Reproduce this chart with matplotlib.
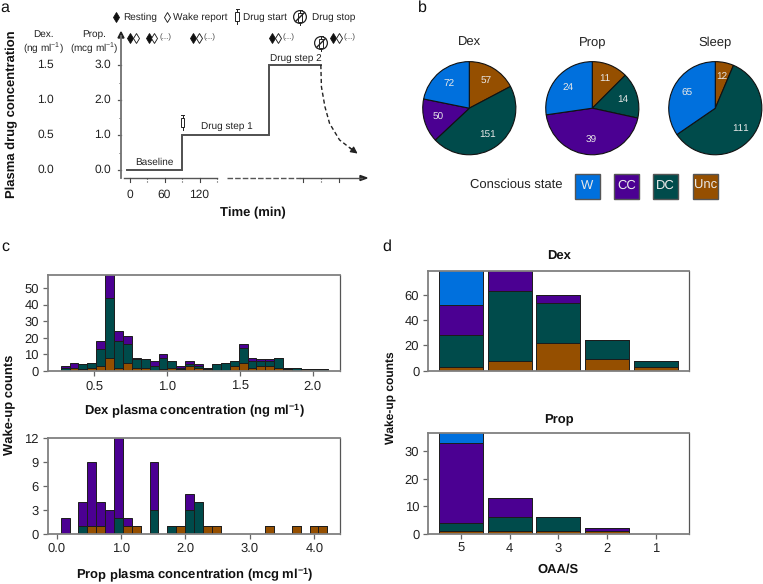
import numpy as np
import matplotlib
matplotlib.use('Agg')
import matplotlib.pyplot as plt
from matplotlib.patches import Rectangle, Circle

plt.rcParams['font.family'] = ['Liberation Sans', 'DejaVu Sans']
plt.rcParams['mathtext.fontset'] = 'custom'
plt.rcParams['mathtext.rm'] = 'Liberation Sans'
plt.rcParams['mathtext.bf'] = 'Liberation Sans:bold'
plt.rcParams['text.hinting'] = 'none'
plt.rcParams['text.hinting_factor'] = 1

# ---------- data ----------
W_C, CC_C, DC_C, UNC_C = '#0070DD', '#4B0092', '#004B4B', '#954F00'
state_names = ['W', 'CC', 'DC', 'Unc']

# panel a
step_time = [-5, 90, 90, 240, 240, 328]
step_prop = [0, 0, 1, 1, 3, 3]
decay_time = [328, 329, 335, 343, 360, 388]
decay_prop = [3, 2.38, 1.81, 1.33, 0.86, 0.5]

# panel b (clockwise from 12 o'clock: Unc, DC, CC, W)
pie_titles = ['Dex', 'Prop', 'Sleep']
pie_unc = [57, 11, 12]
pie_dc = [151, 14, 111]
pie_cc = [50, 39, 0]
pie_w = [72, 24, 65]

# panel c, top
dex_left = 0.269
dex_width = 0.0611
dex_unc = [0, 2, 1, 2, 3, 8, 2, 5, 2, 2, 0, 1, 2, 1, 3, 2, 1, 0, 0, 3, 5, 2, 3, 3, 2, 1, 0, 1, 0, 0]
dex_dc = [2, 0, 3, 3, 10, 36, 16, 11, 5, 5, 3, 7, 4, 1, 1, 1, 1, 4, 5, 3, 9, 4, 3, 3, 6, 1, 2, 0, 1, 1]
dex_cc = [1, 3, 0, 0, 5, 18, 6, 5, 1, 0, 3, 2, 0, 1, 2, 1, 0, 0, 0, 0, 2, 2, 1, 1, 0, 0, 0, 0, 0, 0]

# panel c, bottom
prop_left = 0.062
prop_width = 0.138
prop_unc = [0, 0, 0, 1, 1, 0, 0, 1, 1, 0, 0, 0, 0, 1, 0, 0, 1, 1, 0, 0, 0, 0, 0, 1, 0, 0, 1, 0, 1, 1]
prop_dc = [0, 0, 1, 0, 0, 0, 2, 0, 0, 0, 3, 0, 1, 0, 3, 4, 0, 0, 0, 0, 0, 0, 0, 0, 0, 0, 0, 0, 0, 0]
prop_cc = [2, 0, 3, 8, 3, 3, 10, 1, 0, 0, 6, 0, 0, 0, 2, 0, 0, 0, 0, 0, 0, 0, 0, 0, 0, 0, 0, 0, 0, 0]

# panel d
oaas = [5, 4, 3, 2, 1]
d_dex_unc = [3, 8, 22, 9, 3]
d_dex_dc = [25, 55, 32, 15, 5]
d_dex_cc = [24, 20, 6, 0, 0]
d_dex_w = [30, 0, 0, 0, 0]
d_prop_unc = [1, 1, 1, 1, 0]
d_prop_dc = [3, 5, 5, 0, 0]
d_prop_cc = [29, 7, 0, 1, 0]
d_prop_w = [5, 0, 0, 0, 0]

# ---------- layout helpers ----------
PW, PH = 763, 584
fig = plt.figure(figsize=(PW / 100, PH / 100), dpi=100)
GR = '#808080'
TX = '#222222'
BK = '#111111'


def axpx(l, t, r, b, **kw):
    return fig.add_axes([l / PW, 1 - b / PH, (r - l) / PW, (b - t) / PH], **kw)


def T(x, y, s, **kw):
    kw.setdefault('ha', 'center')
    kw.setdefault('va', 'center')
    kw.setdefault('color', TX)
    fig.text(x / PW, 1 - y / PH, s, **kw)


ov = axpx(0, 0, PW, PH)
ov.set_xlim(0, PW)
ov.set_ylim(PH, 0)
ov.axis('off')
ov.set_zorder(5)


def style(ax, fs=9.6):
    for s in ax.spines.values():
        s.set_color(GR)
        s.set_linewidth(1.3)
    ax.spines['right'].set_color('#555555')
    ax.spines['right'].set_linewidth(0.9)
    ax.tick_params(axis='both', length=3.5, width=0.9, color='#666666', labelsize=fs,
                   labelcolor=TX, pad=3)


def stacked(ax, x, width, layers, cols):
    bottom = np.zeros(len(x))
    for vals, c in zip(layers, cols):
        vals = np.array(vals, float)
        ax.bar(x, vals, width=width, bottom=bottom, color=c, edgecolor='#1c1c1c', linewidth=0.7)
        bottom += vals


# ---------- panel a ----------
axa = axpx(110, 25, 370, 185)
x0 = 129.5
kx = 35 / 60
y0 = 170
ky = 35
axa.set_xlim((110 - x0) / kx, (370 - x0) / kx)
axa.set_ylim((y0 - 185) / ky, (y0 - 25) / ky)
axa.patch.set_alpha(0)
for s in axa.spines.values():
    s.set_visible(False)
axa.plot(step_time, step_prop, color='#4f4f4f', lw=1.4, solid_joinstyle='miter')
axa.plot(decay_time, decay_prop, color='#222222', lw=1.0, ls=(0, (3, 2)))
axa.annotate('', xy=(decay_time[-1] + 3, decay_prop[-1] - 0.03), xytext=(decay_time[-1] - 10, decay_prop[-1] + 0.13),
             arrowprops=dict(arrowstyle='-|>', color='#222222', lw=0.9, mutation_scale=10, shrinkA=0, shrinkB=0))
axa.set_xticks([])
axa.set_yticks([])
for v, d, p in zip([0, 1, 2, 3], ['0.0', '0.5', '1.0', '1.5'], ['0.0', '1.0', '2.0', '3.0']):
    py = y0 - ky * v
    T(45.5, py, d, fontsize=8.9)
    T(102.5, py, p, fontsize=8.9)
    ov.plot([118, 121], [py, py], color='#555555', lw=0.9)
    if v < 3:
        ov.plot([118.5, 120], [py - 17.5] * 2, color='#555555', lw=0.7, ls=':')
for t, s in zip([0, 60, 120], ['0', '60', '120']):
    T(x0 + kx * t, 195, s, fontsize=8.9)
# y and x axis arrows
ov.plot([121, 121], [178, 36], color='#707070', lw=1.3)
ov.fill([118, 124, 121], [38, 38, 32], color='#222222')
ov.plot([124, 217], [178, 178], color='#555555', lw=1.0)
ov.plot([227, 300], [178, 178], color='#555555', lw=1.0, ls=(0, (4, 1.5)))
ov.plot([300, 362], [178, 178], color='#555555', lw=1.0)
ov.fill([360, 360, 367], [175.5, 180.5, 178], color='#222222')
for px_, st in zip([129.5, 147, 165, 182.3, 200, 217, 303, 321, 338.5], ['-', ':', '-', ':', '-', ':', '-', ':', '-']):
    ov.plot([px_, px_], [178, 182], color='#444444', lw=0.8, ls=st)

T(43, 42.5, 'Dex.\n' + r'(ng ml$^{-1}$)', fontsize=7.1, linespacing=1.15)
T(94, 42.5, 'Prop.\n' + r'(mcg ml$^{-1}$)', fontsize=7.1, linespacing=1.15)
T(12, 114, 'Plasma drug concentration', fontsize=9.3, fontweight='bold', rotation=90, color=BK)
T(253, 213, 'Time (min)', fontsize=9.3, fontweight='bold', color=BK)
T(154, 162, 'Baseline', fontsize=7.0)
T(227, 126, 'Drug step 1', fontsize=7.0)
T(296, 59, 'Drug step 2', fontsize=7.0)


def syringe(x, y, h=9):
    ov.add_patch(Rectangle((x - 1.8, y - h / 2), 3.6, h, fc='white', ec='#222222', lw=0.7, zorder=6))
    ov.plot([x, x], [y - h / 2 - 3, y - h / 2], color='#222222', lw=0.7, zorder=6)
    ov.plot([x, x], [y + h / 2, y + h / 2 + 3], color='#222222', lw=0.7, zorder=6)
    ov.plot([x - 1.5, x + 1.5], [y - h / 2 - 3] * 2, color='#222222', lw=0.7, zorder=6)


def stop_icon(x, y):
    syringe(x, y, 9)
    ov.add_patch(Circle((x, y), 6.4, fc='none', ec='#222222', lw=0.9, zorder=7))
    ov.plot([x - 4.5, x + 4.5], [y + 4.5, y - 4.5], color='#222222', lw=1.0, zorder=7)


def diamonds(x, y, filled):
    ov.plot([x], [y], marker='d', ms=4.6, mfc=BK if filled else 'white', mec=BK, mew=0.6,
            ls='none', zorder=6, fillstyle='full')


for xf, xo, xd in [(130.3, 135.7, None), (149, 154.3, 165), (193, 198.7, 209.3), (272.3, 277.7, 288.3), (333.3, 338.7, 349.3)]:
    diamonds(xf, 37.7, True)
    diamonds(xo, 37.7, False)
    if xd:
        T(xd, 37.5, '(...)', fontsize=5.5, color='#444444')
syringe(182.5, 122)
stop_icon(321, 43)

diamonds(116, 17, True)
T(123, 17, 'Resting', fontsize=7.1, ha='left')
diamonds(167, 17, False)
T(173, 17, 'Wake report', fontsize=7.1, ha='left')
syringe(237, 16.5, 9)
T(243, 17, 'Drug start', fontsize=7.1, ha='left')
stop_icon(300, 17)
T(312, 17, 'Drug stop', fontsize=7.1, ha='left')

# ---------- panel b ----------
pie_cx = [469.3, 592.3, 715.3]
for i, cx in enumerate(pie_cx):
    r = 47.5
    axp = axpx(cx - r, 108.2 - r, cx + r, 108.2 + r)
    vals = [pie_unc[i], pie_dc[i], pie_cc[i], pie_w[i]]
    cols = [UNC_C, DC_C, CC_C, W_C]
    keep = [(v, c) for v, c in zip(vals, cols) if v > 0]
    wedges, _ = axp.pie([k[0] for k in keep], colors=[k[1] for k in keep], startangle=90, counterclock=False,
                        radius=1.0, wedgeprops=dict(edgecolor=BK, linewidth=0.8))
    axp.set_xlim(-1.02, 1.02)
    axp.set_ylim(-1.02, 1.02)
    tot = sum(k[0] for k in keep)
    a = 90.0
    for v, c in keep:
        mid = a - 360 * v / tot / 2
        a -= 360 * v / tot
        axp.text(0.69 * np.cos(np.radians(mid)), 0.69 * np.sin(np.radians(mid)), str(v), color='#e8e8e8',
                 fontsize=7.2, ha='center', va='center')
    T(cx, 43, pie_titles[i], fontsize=9.2)

T(516, 185, 'Conscious state', fontsize=9.6)
for lx, name, c in zip([575, 614, 653, 693], state_names, [W_C, CC_C, DC_C, UNC_C]):
    ov.add_patch(Rectangle((lx, 173.5), 25, 25, fc=c, ec='#555555', lw=1.0))
    ov.text(lx + 12.5, 185.5, name, color='#e8e8e8', fontsize=9.6, ha='center', va='center')

# ---------- panel c ----------
axc1 = axpx(48, 275, 340, 371)
style(axc1)
x = dex_left + dex_width * (np.arange(len(dex_unc)) + 0.5)
stacked(axc1, x, dex_width, [dex_unc, dex_dc, dex_cc], [UNC_C, DC_C, CC_C])
axc1.set_xlim(0.182, 2.187)
axc1.set_ylim(0, 57.8)
axc1.set_xticks([0.5, 1.0, 1.5, 2.0], ['0.5', '1.0', '1.5', '2.0'])
axc1.set_yticks([0, 10, 20, 30, 40, 50])

axc2 = axpx(48, 438, 340, 533.7)
style(axc2)
x = prop_left + prop_width * (np.arange(len(prop_unc)) + 0.5)
stacked(axc2, x, prop_width, [prop_unc, prop_dc, prop_cc], [UNC_C, DC_C, CC_C])
axc2.set_xlim((48 - 56.7) / 64.4, (340 - 56.7) / 64.4)
axc2.set_ylim(0, 12)
axc2.set_xticks([0, 1, 2, 3, 4], ['0.0', '1.0', '2.0', '3.0', '4.0'])
axc2.set_yticks([0, 3, 6, 9, 12])

T(194, 410, r'Dex plasma concentration (ng ml$\mathbf{^{-1}}$)', fontsize=9.7, fontweight='bold', color=BK)
T(194.5, 574, r'Prop plasma concentration (mcg ml$\mathbf{^{-1}}$)', fontsize=9.7, fontweight='bold', color=BK)
T(10, 405, 'Wake-up counts', fontsize=9.1, fontweight='bold', rotation=90, color=BK)

# ---------- panel d ----------
pos = np.arange(len(oaas))
axd1 = axpx(428.3, 270.7, 689.3, 370.7)
style(axd1)
stacked(axd1, pos, 0.9, [d_dex_unc, d_dex_dc, d_dex_cc, d_dex_w], [UNC_C, DC_C, CC_C, W_C])
axd1.set_xlim((428.3 - 461) / 48.7, (689.3 - 461) / 48.7)
axd1.set_ylim(0, 79.3)
axd1.set_xticks([])
axd1.set_yticks([0, 20, 40, 60])

axd2 = axpx(428.3, 433.3, 689.3, 533.7)
style(axd2)
stacked(axd2, pos, 0.9, [d_prop_unc, d_prop_dc, d_prop_cc, d_prop_w], [UNC_C, DC_C, CC_C, W_C])
axd2.set_xlim((428.3 - 461) / 48.7, (689.3 - 461) / 48.7)
axd2.set_ylim(0, 36.6)
axd2.set_xticks(pos, [str(o) for o in oaas])
axd2.set_yticks([0, 10, 20, 30])

T(559, 257, 'Dex', fontsize=9.3, fontweight='bold', color=BK)
T(559, 420, 'Prop', fontsize=9.3, fontweight='bold', color=BK)
T(558, 569.5, 'OAA/S', fontsize=9.1, fontweight='bold', color=BK)
T(391, 398, 'Wake-up counts', fontsize=8.4, fontweight='bold', rotation=90, color=BK)

# panel letters
for lx, ly, s in [(5, 8, 'a'), (422, 8, 'b'), (5, 247, 'c'), (387, 247, 'd')]:
    T(lx, ly, s, fontsize=11.5, color=BK)

fig.savefig('out.png', dpi=100)
